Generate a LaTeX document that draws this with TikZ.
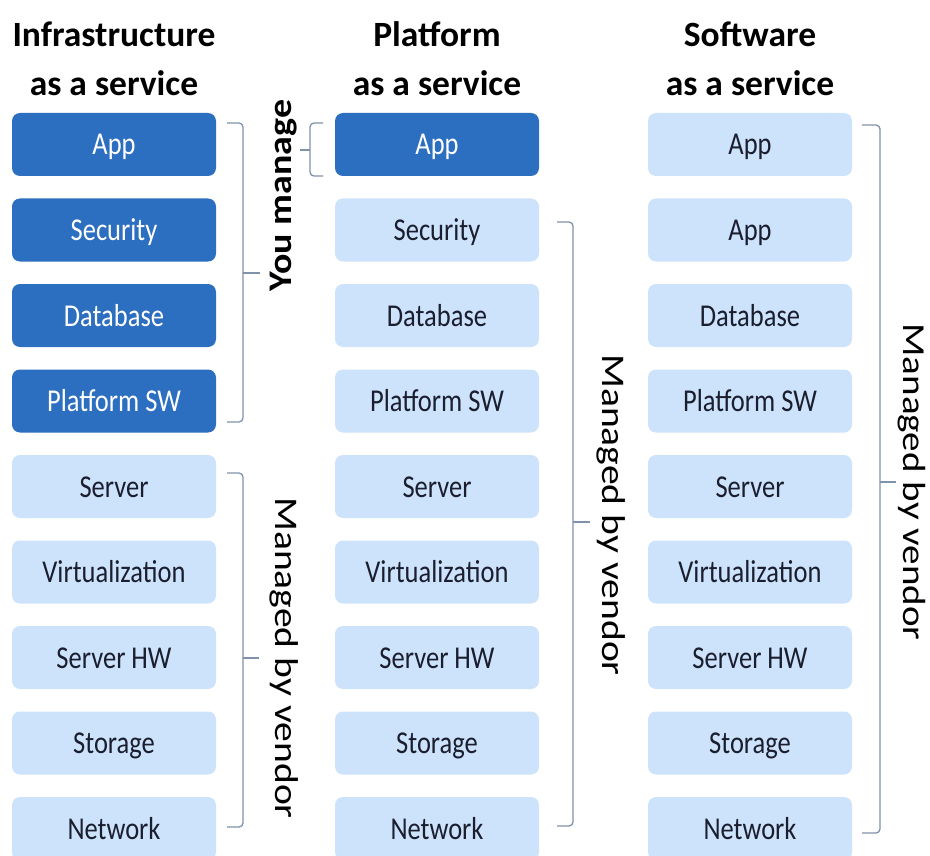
\documentclass[tikz,border=0pt]{standalone}
\usepackage{fontspec}
\usepackage{graphicx}
\setmainfont{Carlito}
\definecolor{darkbox}{RGB}{44,110,192}
\definecolor{lightbox}{RGB}{205,227,251}
\definecolor{boxtext}{RGB}{26,30,46}
\definecolor{brkcol}{RGB}{128,146,170}
\tikzset{
  boxbase/.style={minimum width=204pt, minimum height=63pt, inner sep=0pt, rounded corners=8pt,
    text height=21pt, text depth=0pt, font=\fontsize{26.5}{30}\selectfont},
  darkbx/.style={boxbase, fill=darkbox, text=white},
  lightbx/.style={boxbase, fill=lightbox, text=boxtext},
  titletext/.style={anchor=base, font=\fontsize{35.5}{40}\selectfont\bfseries, text=black, inner sep=0pt},
  brk/.style={draw=brkcol, line width=1.3pt, rounded corners=4pt},
  sidelabel/.style={inner sep=0pt, text height=21pt, text depth=0pt, text=black}
}
\newcommand{\bt}[1]{\scalebox{1}[1.2]{#1}}
\begin{document}
\begin{tikzpicture}[x=1pt,y=-1pt]
\useasboundingbox[fill=white] (0,0) rectangle (930,856);

% titles
\node[titletext] (t1a) at (114,47) {Infrastructure};
\node[titletext] (t1b) at (114,96) {as a service};
\node[titletext] (t2a) at (437,47) {Platform};
\node[titletext] (t2b) at (437,96) {as a service};
\node[titletext] (t3a) at (750,47) {Software};
\node[titletext] (t3b) at (750,96) {as a service};

% column 1
\foreach \i/\lab/\sty in {0/App/darkbx,1/Security/darkbx,2/Database/darkbx,3/Platform SW/darkbx,
  4/Server/lightbx,5/Virtualization/lightbx,6/Server HW/lightbx,7/Storage/lightbx,8/Network/lightbx}
  \node[\sty] (a\i) at (114,144.5+85.5*\i) {\bt{\lab}};
% column 2
\foreach \i/\lab/\sty in {0/App/darkbx,1/Security/lightbx,2/Database/lightbx,3/Platform SW/lightbx,
  4/Server/lightbx,5/Virtualization/lightbx,6/Server HW/lightbx,7/Storage/lightbx,8/Network/lightbx}
  \node[\sty] (b\i) at (437,144.5+85.5*\i) {\bt{\lab}};
% column 3
\foreach \i/\lab/\sty in {0/App/lightbx,1/App/lightbx,2/Database/lightbx,3/Platform SW/lightbx,
  4/Server/lightbx,5/Virtualization/lightbx,6/Server HW/lightbx,7/Storage/lightbx,8/Network/lightbx}
  \node[\sty] (c\i) at (750,144.5+85.5*\i) {\bt{\lab}};

% brackets
\draw[brk] (227,123) -- (243,123) -- (243,422) -- (227,422);
\draw[brkcol, line width=1.3pt] (243,273) -- (260,273);
\draw[brk] (227,473) -- (243,473) -- (243,827) -- (227,827);
\draw[brkcol, line width=1.3pt] (243,658) -- (259,658);
\draw[brk] (323,123) -- (310,123) -- (310,176) -- (323,176);
\draw[brkcol, line width=1.3pt] (310,150) -- (300,150);
\draw[brk] (557,222) -- (573,222) -- (573,826) -- (557,826);
\draw[brkcol, line width=1.3pt] (573,522) -- (590,522);
\draw[brk] (862,125) -- (880,125) -- (880,833) -- (862,833);
\draw[brkcol, line width=1.3pt] (880,482) -- (896,482);

% side labels
\node[sidelabel, rotate=90, font=\fontsize{33}{36}\selectfont\bfseries] (ym) at (281,195.5) {\scalebox{1.15}[1]{You manage}};
\node[sidelabel, rotate=-90, font=\fontsize{33}{36}\selectfont] (mv1) at (286,658) {\scalebox{1.2}[1]{Managed by vendor}};
\node[sidelabel, rotate=-90, font=\fontsize{33}{36}\selectfont] (mv2) at (612.5,515) {\scalebox{1.2}[1]{Managed by vendor}};
\node[sidelabel, rotate=-90, font=\fontsize{32}{36}\selectfont] (mv3) at (914,482) {\scalebox{1.22}[1]{Managed by vendor}};
\end{tikzpicture}
\end{document}
